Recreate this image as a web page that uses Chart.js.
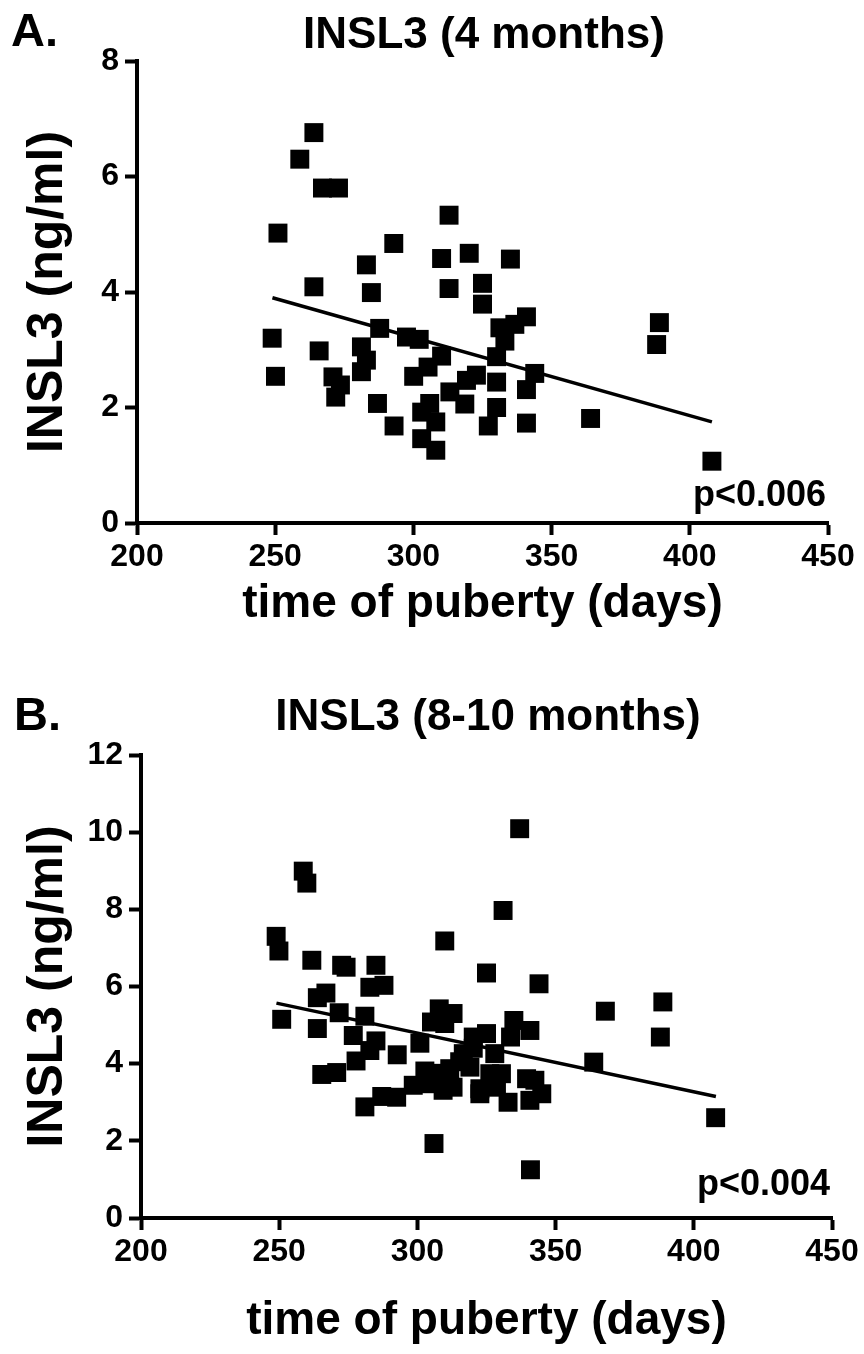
<!DOCTYPE html>
<html>
<head>
<meta charset="utf-8">
<script src="https://cdn.jsdelivr.net/npm/chart.js@4.4.1/dist/chart.umd.min.js"></script>
<style>
  body { margin: 0; background: #fff; }
  canvas { position: absolute; left: 0; }
  #chartA { top: 0; }
  #chartB { top: 660px; }
</style>
</head>
<body>
<canvas id="chartA" width="864" height="660"></canvas>
<canvas id="chartB" width="864" height="694"></canvas>
<script>
// panel A - INSL3 at 4 months vs time of puberty
const daysA = [264, 258.9, 267.1, 272.9, 251, 264, 248.9, 250.1, 265.9, 270.9, 273.6, 271.9,
  283, 284.8, 292.9, 287.8, 281.2, 283, 281.2, 287, 293, 297.5, 302.1, 312.9, 310.2, 320.2,
  312.9, 325, 325, 335.1, 340.9, 336.7, 331.3, 333.1, 330.1, 310.2, 305.3, 300.1, 322.8, 319.2,
  330.1, 343.9, 340.9, 313.2, 318.6, 330.1, 327.1, 340.9, 364.1, 305.9, 303, 308.1, 303, 308.1,
  389, 388, 408]
const insl3A = [6.76, 6.30, 5.80, 5.80, 5.02, 4.09, 3.20, 2.54, 2.98, 2.53, 2.39, 2.18,
  4.47, 3.99, 4.84, 3.37, 3.05, 2.82, 2.62, 2.07, 1.68, 3.22, 3.18, 5.33, 4.58, 4.67,
  4.06, 4.15, 3.79, 4.57, 3.57, 3.44, 3.38, 3.15, 2.88, 2.89, 2.70, 2.54, 2.56, 2.47,
  2.44, 2.59, 2.31, 2.27, 2.06, 2.00, 1.68, 1.73, 1.81, 2.07, 1.92, 1.75, 1.46, 1.26,
  3.47, 3.09, 1.07]
const fitDaysA = [249, 408]
const fitA = [3.90, 1.75]

// panel B - INSL3 at 8-10 months
const daysB = [258.7, 260, 248.9, 249.9, 250.9, 261.8, 272.6, 274.2, 285, 282.8, 287.9, 266.9,
  263.8, 271.7, 281, 263.8, 276.8, 285, 282.8, 277.8, 292.7, 265.4, 270.8, 281, 287.1, 292.5,
  309.9, 325, 331, 306, 307.9, 312.9, 305.1, 309.9, 300.9, 302.7, 298.5, 303.3, 309.3, 312.9,
  311.7, 316.6, 319, 322.6, 320.2, 325, 337, 344, 368, 388.8, 387.9, 363.8, 407.9, 340.9,
  334.9, 340.7, 333.7, 328, 326.2, 330.4, 339.5, 322.6, 332.8, 340.7, 345, 342.5, 328.6,
  315.3, 320.2, 308]
const insl3B = [8.99, 8.68, 7.30, 6.92, 5.15, 6.68, 6.55, 6.50, 6.55, 5.98, 6.03, 5.83,
  5.71, 5.32, 5.23, 4.91, 4.73, 4.59, 4.34, 4.07, 4.23, 3.72, 3.77, 2.88, 3.15, 3.13,
  7.18, 6.35, 7.97, 1.93, 5.42, 5.30, 5.08, 5.04, 4.53, 3.81, 3.44, 3.48, 3.31, 3.39,
  3.87, 4.26, 3.91, 3.35, 4.69, 4.78, 10.09, 6.07, 5.36, 5.60, 4.69, 4.04, 2.60, 1.25,
  5.12, 4.86, 4.69, 4.26, 3.74, 3.74, 3.61, 3.22, 3.00, 3.05, 3.22, 3.57, 3.39,
  4.05, 4.40, 3.75]
const fitDaysB = [249, 408]
const fitB = [5.57, 3.15]

const xTicks = [200, 250, 300, 350, 400, 450]
const yTicksA = [0, 2, 4, 6, 8]
const yTicksB = [0, 2, 4, 6, 8, 10, 12]

const FONT = '"Liberation Sans", Arial, Helvetica, sans-serif'
Chart.defaults.color = '#000'
Chart.defaults.font.family = FONT

const panelText = {
  id: 'panelText',
  afterDraw(chart, args, o) {
    const ctx = chart.ctx
    ctx.save()
    ctx.fillStyle = '#000'
    ctx.textBaseline = 'alphabetic'
    ctx.font = 'bold 47px ' + FONT
    ctx.textAlign = 'left'
    ctx.fillText(o.letter, o.letterX, o.letterY)
    ctx.font = 'bold 44px ' + FONT
    ctx.textAlign = 'center'
    ctx.fillText(o.title, o.titleX, o.titleY)
    ctx.font = 'bold 36px ' + FONT
    ctx.textAlign = 'right'
    ctx.fillText(o.pText, o.pX, o.pY)
    ctx.restore()
  }
}

function toPoints(xs, ys) {
  return xs.map((x, i) => ({ x: x, y: ys[i] }))
}

function makeChart(id, xs, ys, fx, fy, yTicks, lay, text) {
  const axisGrid = {
    display: true,
    drawOnChartArea: false,
    drawTicks: true,
    tickLength: 12,
    tickWidth: 4,
    tickColor: '#000',
    color: '#000'
  }
  return new Chart(document.getElementById(id), {
    type: 'scatter',
    data: {
      datasets: [{
        data: toPoints(xs, ys),
        pointStyle: 'rect',
        pointRadius: 13.4,
        pointBorderWidth: 0,
        backgroundColor: '#000',
        borderColor: '#000'
      }, {
        type: 'line',
        data: toPoints(fx, fy),
        showLine: true,
        pointRadius: 0,
        borderWidth: 3.5,
        borderColor: '#000',
        fill: false
      }]
    },
    options: {
      responsive: false,
      animation: false,
      devicePixelRatio: 1,
      layout: { padding: { top: lay.top, right: lay.right, left: 0, bottom: 0 } },
      plugins: {
        legend: { display: false },
        tooltip: { enabled: false },
        panelText: text
      },
      scales: {
        x: {
          type: 'linear',
          min: xTicks[0],
          max: xTicks[xTicks.length - 1],
          afterBuildTicks: s => { s.ticks = xTicks.map(v => ({ value: v })) },
          afterFit: s => { s.height = lay.xHeight },
          grid: axisGrid,
          border: { display: true, color: '#000', width: 4 },
          ticks: { font: { size: 32, weight: 'bold' }, padding: 3, maxRotation: 0 },
          title: {
            display: true,
            text: 'time of puberty (days)',
            font: { size: 46, weight: 'bold' },
            padding: { top: 0, bottom: lay.xTitlePad }
          }
        },
        y: {
          type: 'linear',
          min: yTicks[0],
          max: yTicks[yTicks.length - 1],
          afterBuildTicks: s => { s.ticks = yTicks.map(v => ({ value: v })) },
          afterFit: s => { s.width = lay.yWidth },
          grid: axisGrid,
          border: { display: true, color: '#000', width: 4 },
          ticks: { font: { size: 32, weight: 'bold' }, padding: 6 },
          title: {
            display: true,
            text: 'INSL3 (ng/ml)',
            font: { size: 50, weight: 'bold' },
            padding: { top: lay.yTitlePad, bottom: 0 }
          }
        }
      }
    },
    plugins: [panelText]
  })
}

makeChart('chartA', daysA, insl3A, fitDaysA, fitA, yTicksA,
  { top: 61, right: 36, xHeight: 137, yWidth: 137, xTitlePad: 28, yTitlePad: 18 },
  { letter: 'A.', letterX: 11, letterY: 46, title: 'INSL3 (4 months)', titleX: 484, titleY: 48,
    pText: 'p<0.006', pX: 826, pY: 506 })

makeChart('chartB', daysB, insl3B, fitDaysB, fitB, yTicksB,
  { top: 95, right: 32, xHeight: 136, yWidth: 141, xTitlePad: 5, yTitlePad: 18 },
  { letter: 'B.', letterX: 14, letterY: 70, title: 'INSL3 (8-10 months)', titleX: 488, titleY: 70,
    pText: 'p<0.004', pX: 830, pY: 535 })
</script>
</body>
</html>
